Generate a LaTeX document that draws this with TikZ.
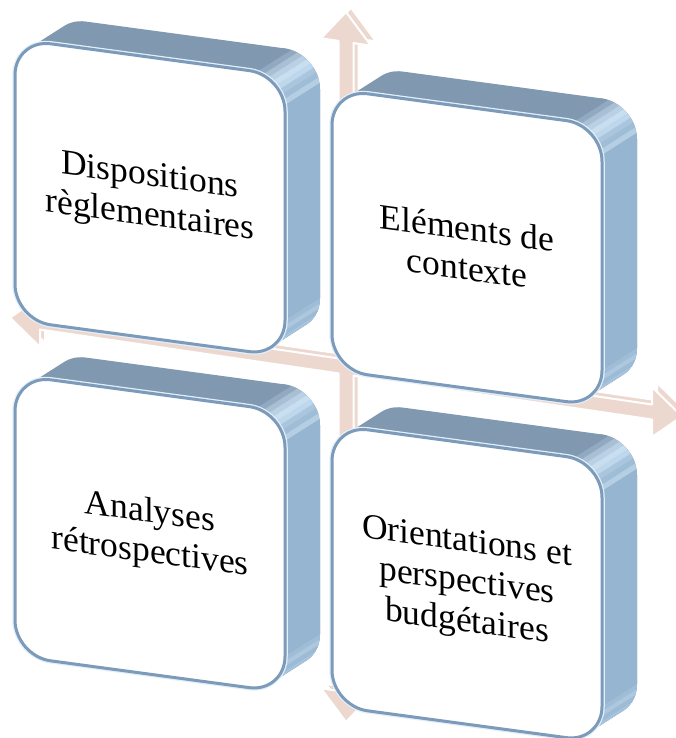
\documentclass[tikz,border=0pt]{standalone}
\usepackage{fontspec}
\setmainfont{Liberation Serif}
\definecolor{arrowpink}{RGB}{237,216,207}
\definecolor{tileline}{RGB}{124,155,186}
\definecolor{tiletop}{RGB}{128,152,176}
\definecolor{tileside}{RGB}{150,181,208}
\definecolor{tileshine}{RGB}{200,223,242}

\begin{document}
\begin{tikzpicture}[x=1pt, y=-1pt]
  \tikzset{
    arrowface/.style={fill=arrowpink, draw=white, line width=2pt, line join=round},
    tileface/.style={fill=white, draw=tileline, line width=3pt, rounded corners=36pt},
    tiletext/.style={transform shape, align=center, font=\fontsize{35.5}{40}\selectfont}
  }
  \useasboundingbox (0,0) rectangle (676,738);

  % rounded tile, 270 wide and 281 high, from its top left corner
  \def\tileshape{-- +(270,0) -- +(270,281) -- +(0,281) -- cycle}
  % four headed arrow around the centre
  \def\quadarrow{+(0,-355) -- +(25,-325) -- +(7.5,-325) -- +(7.5,-7.5) -- +(306,-7.5) -- +(306,-25) -- +(336,0) -- +(306,25) -- +(306,7.5) -- +(7.5,7.5) -- +(7.5,325) -- +(25,325) -- +(0,355) -- +(-25,325) -- +(-7.5,325) -- +(-7.5,7.5) -- +(-306,7.5) -- +(-306,25) -- +(-336,0) -- +(-306,-25) -- +(-306,-7.5) -- +(-7.5,-7.5) -- +(-7.5,-325) -- +(-25,-325) -- cycle}

  \begin{scope}[shift={(346,367)}, yslant=-0.147]
    \draw[arrowface] (5,-5) \quadarrow;
    \draw[arrowface] (0,0) \quadarrow;
  \end{scope}

  \foreach \tx/\ty/\tname/\txt in {15/39/disp/{Dispositions\\règlementaires}, 332/89/context/{Eléments de\\contexte}, 15/375/retro/{Analyses\\rétrospectives}, 332/425/orient/{Orientations et\\perspectives\\budgétaires}}{
    \begin{scope}[shift={(\tx,\ty)}, yslant=-0.135]
      \begin{scope}
        % depth of the tile, pushed back up and right
        \clip[rounded corners=36pt] foreach \n in {0,...,20} {(1.75*\n,-1.35*\n) \tileshape};
        \fill[tiletop] (-60,-60) rectangle (360,340);
        \fill[tileside] (375,-45) -- (-150,360) -- (500,600) -- (500,-45) -- cycle;
        % top right corner
        \foreach \n/\col in {0/tiletop, 1/tiletop!75!tileshine, 2/tiletop!45!tileshine, 3/tiletop!20!tileshine, 4/tileshine, 5/tileshine!80!tileside, 6/tileshine!40!tileside, 7/tileside!80!tileshine, 8/tileshine!60!tileside, 9/tileside}
          \fill[\col] ({339+3.6*\n},{-81+3.6*\n}) -- ({-186+3.6*\n},{324+3.6*\n}) -- ({-182.2+3.6*\n},{327.8+3.6*\n}) -- ({342.8+3.6*\n},{-77.2+3.6*\n}) -- cycle;
        % bottom right corner
        \foreach \n/\col in {0/tileside!80!tileshine, 1/tileside!55!tileshine, 2/tileside!85!tileshine, 3/tileside!65!tileshine, 4/tileside!85!black}
          \fill[\col] ({375+2.8*\n},{164+2.8*\n}) -- ({-150+2.8*\n},{569+2.8*\n}) -- ({-147+2.8*\n},{572+2.8*\n}) -- ({378+2.8*\n},{167+2.8*\n}) -- cycle;
      \end{scope}
      \draw[tileshine!50!white, line width=5.5pt, rounded corners=36pt] (0,0) \tileshape;
      \draw[tileface] (0,0) \tileshape;
      \node[tiletext] (\tname) at (135,140.5) {\txt};
    \end{scope}
  }
\end{tikzpicture}
\end{document}
